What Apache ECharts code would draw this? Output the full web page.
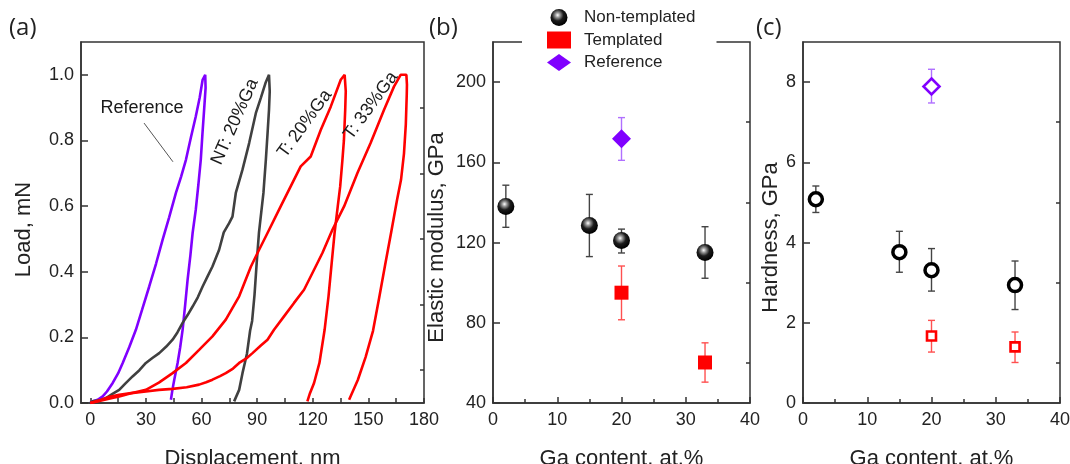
<!DOCTYPE html>
<html><head><meta charset="utf-8">
<script src="https://cdn.jsdelivr.net/npm/echarts@6/dist/echarts.min.js"></script>
<style>html,body{margin:0;padding:0;background:#fff}#c{width:1070px;height:464px}</style>
</head><body><div id="c"></div>
<script>
// ---------- Panel (a): load–displacement curves [displacement nm, load mN] ----------
const curveReference = [[0,0],[1.3,0.005],[4,0.01],[6.7,0.02],[9,0.035],[12.1,0.061],[15,0.09],[17.5,0.122],[21,0.17],[24.6,0.223],[28,0.285],[31.8,0.355],[35.5,0.425],[39,0.497],[42.5,0.565],[46.2,0.64],[49,0.69],[51.6,0.741],[54.3,0.81],[56.9,0.873],[59,0.93],[60.6,0.985],[62,1.0],
  [62.5,1.0],[62.2,0.96],[61.4,0.893],[60.5,0.82],[59.6,0.741],[58.3,0.665],[56.9,0.589],[55.2,0.518],[54,0.45],[52.5,0.376],[51.2,0.3],[49.8,0.223],[48.5,0.17],[47.1,0.122],[45.3,0.071],[44.3,0.04],[43.5,0.01]];
const curveNT20 = [[0,0],[1.3,0.005],[5,0.008],[8.5,0.015],[12,0.028],[15.6,0.04],[19,0.06],[22.8,0.081],[26.5,0.1],[30,0.122],[33.5,0.137],[37.2,0.152],[41,0.172],[44.4,0.193],[47,0.215],[49.8,0.244],[52.5,0.268],[55.2,0.294],[58,0.322],[60.6,0.355],[63.2,0.385],[65.9,0.416],[69.5,0.467],[72,0.52],[74.9,0.548],[76.7,0.568],[78.5,0.64],[82.1,0.711],[85.7,0.792],[89.3,0.883],[92,0.93],[94.5,0.975],[96.4,1.0],
  [97,1.0],[96.8,0.95],[96.4,0.893],[95.6,0.82],[94.7,0.741],[93.4,0.64],[91,0.52],[89.8,0.43],[88.6,0.33],[87.3,0.25],[86.2,0.22],[84.5,0.15],[82.1,0.091],[80.3,0.04],[77.6,0.005]];
const curveT20 = [[0,0],[5,0.006],[10,0.013],[15.6,0.02],[22,0.03],[30,0.04],[37,0.062],[44.4,0.091],[51.6,0.122],[58.7,0.162],[65.9,0.203],[73.1,0.254],[80.3,0.325],[86.6,0.415],[90.2,0.457],[95.6,0.518],[102.7,0.599],[108.1,0.66],[113.5,0.721],[118.9,0.751],[124.3,0.832],[129.7,0.903],[135.1,0.985],[137.2,1.0],
  [138,1.0],[137.8,0.95],[137.5,0.893],[136.8,0.8],[136,0.741],[134.8,0.66],[133.5,0.6],[131.8,0.52],[130.2,0.426],[128.5,0.325],[126.4,0.223],[123.6,0.122],[120.7,0.061],[118.5,0.03],[117.1,0.005]];
const curveT33 = [[0,0],[5,0.008],[10,0.018],[15.6,0.025],[22,0.03],[30,0.035],[37,0.04],[44.4,0.043],[52,0.048],[58.7,0.056],[62.5,0.063],[65.9,0.071],[70,0.082],[73.1,0.091],[77,0.105],[80.3,0.122],[84,0.135],[87.5,0.152],[92,0.175],[95.6,0.193],[99.1,0.223],[104.5,0.264],[109.9,0.305],[115.3,0.345],[120.7,0.406],[125.2,0.457],[130.6,0.528],[136.9,0.599],[144.1,0.701],[151.2,0.792],[158.4,0.893],[163.8,0.964],[167.4,1.0],[170.5,1.0],
  [170.8,0.97],[170.7,0.94],[170.2,0.85],[169.2,0.76],[167.6,0.68],[165.5,0.62],[162.3,0.52],[159,0.42],[155.8,0.32],[152.5,0.22],[148.5,0.14],[144.3,0.07],[139.6,0.01]];
const curveNames = ['curve Reference','curve NT: 20%Ga','curve T: 20%Ga','curve T: 33%Ga'];

// ---------- Panels (b), (c): Ga content (at.%) ----------
const gaNT = [2, 15, 20, 33];
const gaT = [20, 33];
const gaRef = [20];
const modNT = [138, 128.5, 121, 115];
const modNTlo = [127.6, 113, 114.8, 102.2];
const modNThi = [148.6, 144, 126.7, 127.9];
const modT = [95, 60.2];
const modTlo = [81.5, 50.4];
const modThi = [108.3, 70];
const modRef = [171.7];
const modReflo = [161];
const modRefhi = [182.3];
const hardNT = [5.08, 3.76, 3.31, 2.94];
const hardNTlo = [4.75, 3.26, 2.79, 2.33];
const hardNThi = [5.41, 4.28, 3.85, 3.54];
const hardT = [1.67, 1.40];
const hardTlo = [1.27, 1.01];
const hardThi = [2.06, 1.77];
const hardRef = [7.89];
const hardReflo = [7.48];
const hardRefhi = [8.32];

// ---------- tick labels ----------
const dispLabels = [0, 30, 60, 90, 120, 150, 180];
const dispTicks = [0, 15, 30, 45, 60, 75, 90, 105, 120, 135, 150, 165, 180];
const loadLabels = [0, 0.2, 0.4, 0.6, 0.8, 1.0];
const loadMinor = [0.1, 0.3, 0.5, 0.7, 0.9];
const modLabels = [40, 80, 120, 160, 200];
const modMinor = [60, 100, 140, 180];
const hardLabels = [0, 2, 4, 6, 8];
const hardMinor = [1, 3, 5, 7];

const FONT = 'Liberation Sans, Arial, sans-serif';
const AX = '#333';
const PURPLE = '#8000ff', RED = '#ff0000', GRAY = '#404040';
const TICKFS = 18;

const chart = echarts.init(document.getElementById('c'));

function zip(xs, ys) { return xs.map((x, i) => [x, ys[i]]); }
function zip3(xs, a, b) { return xs.map((x, i) => [x, a[i], b[i]]); }

function mainAxis(o) {
  return Object.assign({
    type: 'value',
    axisLine: { show: true, onZero: false, lineStyle: { color: AX, width: 1.5 } },
    axisTick: { show: true, inside: true, length: 7, lineStyle: { color: AX, width: 1.5 } },
    axisLabel: { fontSize: TICKFS, color: '#222', fontFamily: FONT, margin: 7 },
    splitLine: { show: false },
    nameLocation: 'middle',
    nameTextStyle: { fontSize: 22, color: '#222', fontFamily: FONT }
  }, o);
}
function minorAxis(o, vals) {
  return Object.assign({
    type: 'value',
    axisLine: { show: false, onZero: false },
    axisTick: { show: true, inside: true, length: 4, customValues: vals, lineStyle: { color: AX, width: 1.5 } },
    axisLabel: { show: false },
    splitLine: { show: false }
  }, o);
}

const xAxis = [
  mainAxis({ gridIndex: 0, min: -5, max: 180, name: 'Displacement, nm', nameGap: 45,
    axisTick: { show: true, inside: true, length: 5, customValues: dispTicks, lineStyle: { color: AX, width: 1.5 } },
    axisLabel: { customValues: dispLabels, fontSize: TICKFS, color: '#222', fontFamily: FONT, margin: 8 } }),
  mainAxis({ gridIndex: 1, min: 0, max: 40, interval: 10, name: 'Ga content, at.%', nameGap: 45,
    axisTick: { show: true, inside: true, length: 6, lineStyle: { color: AX, width: 1.5 } },
    minorTick: { show: true, splitNumber: 2, length: 4, lineStyle: { color: AX, width: 1.5 } },
    axisLabel: { fontSize: TICKFS, color: '#222', fontFamily: FONT, margin: 8 } }),
  mainAxis({ gridIndex: 2, min: 0, max: 40, interval: 10, name: 'Ga content, at.%', nameGap: 45,
    axisTick: { show: true, inside: true, length: 6, lineStyle: { color: AX, width: 1.5 } },
    minorTick: { show: true, splitNumber: 2, length: 4, lineStyle: { color: AX, width: 1.5 } },
    axisLabel: { fontSize: TICKFS, color: '#222', fontFamily: FONT, margin: 8 } })
];
const yAxis = [
  mainAxis({ gridIndex: 0, min: 0, max: 1.1, name: 'Load, mN', nameGap: 46,
    axisTick: { show: true, inside: true, length: 7, customValues: loadLabels, lineStyle: { color: AX, width: 1.5 } },
    axisLabel: { customValues: loadLabels, formatter: v => v.toFixed(1), fontSize: TICKFS, color: '#222', fontFamily: FONT, margin: 7 },
    nameTextStyle: { fontSize: 22, color: '#222', fontFamily: FONT, padding: [0, 14, 0, 0] } }),
  minorAxis({ gridIndex: 0, min: 0, max: 1.1 }, loadMinor),
  mainAxis({ gridIndex: 1, min: 40, max: 220, name: 'Elastic modulus, GPa', nameGap: 45,
    axisTick: { show: true, inside: true, length: 7, customValues: modLabels, lineStyle: { color: AX, width: 1.5 } },
    axisLabel: { customValues: modLabels, fontSize: TICKFS, color: '#222', fontFamily: FONT, margin: 7 },
    nameTextStyle: { fontSize: 22, color: '#222', fontFamily: FONT, padding: [0, 30, 0, 0] } }),
  minorAxis({ gridIndex: 1, min: 40, max: 220 }, modMinor),
  mainAxis({ gridIndex: 2, min: 0, max: 9, name: 'Hardness, GPa', nameGap: 20,
    axisTick: { show: true, inside: true, length: 7, customValues: hardLabels, lineStyle: { color: AX, width: 1.5 } },
    axisLabel: { customValues: hardLabels, fontSize: TICKFS, color: '#222', fontFamily: FONT, margin: 7 },
    nameTextStyle: { fontSize: 22, color: '#222', fontFamily: FONT, padding: [0, 30, 0, 0] } }),
  minorAxis({ gridIndex: 2, min: 0, max: 9 }, hardMinor)
];

const gridBase = { top: 42, width: 257, height: 361, show: true, borderColor: AX, borderWidth: 1.5,
  backgroundColor: 'transparent', containLabel: false, outerBoundsMode: 'none' };
const grid = [
  Object.assign({}, gridBase, { left: 81, width: 343 }),
  Object.assign({}, gridBase, { left: 493 }),
  Object.assign({}, gridBase, { left: 803 })
];

function curve(name, data, color) {
  return { name, type: 'line', xAxisIndex: 0, yAxisIndex: 0, data, showSymbol: false, symbol: 'none',
    lineStyle: { color, width: 2.6 }, itemStyle: { color }, z: 3, silent: true, animation: false };
}

function errBars(name, xi, yi, data, color, cap) {
  return {
    name, type: 'custom', xAxisIndex: xi, yAxisIndex: yi, data, z: 2, silent: true, animation: false,
    encode: { x: 0, y: [1, 2] },
    renderItem: function (params, api) {
      const x = api.value(0), lo = api.value(1), hi = api.value(2);
      const a = api.coord([x, lo]), b = api.coord([x, hi]);
      const st = { stroke: color, lineWidth: 1.4 };
      return { type: 'group', children: [
        { type: 'line', shape: { x1: a[0], y1: a[1], x2: b[0], y2: b[1] }, style: st },
        { type: 'line', shape: { x1: a[0] - cap, y1: a[1], x2: a[0] + cap, y2: a[1] }, style: st },
        { type: 'line', shape: { x1: b[0] - cap, y1: b[1], x2: b[0] + cap, y2: b[1] }, style: st }
      ] };
    }
  };
}

const sphere = new echarts.graphic.RadialGradient(0.42, 0.36, 0.62, [
  { offset: 0, color: '#ffffff' }, { offset: 0.22, color: '#9a9a9a' }, { offset: 0.55, color: '#1c1c1c' }, { offset: 1, color: '#000000' }
]);

// annotation labels anchored in data space of panel (a) (rotation in degrees)
const annotations = [
  { text: 'Reference', x: 27.9, y: 0.9, rot: 0 },
  { text: 'NT: 20%Ga', x: 78, y: 0.857, rot: 66 },
  { text: 'T: 20%Ga', x: 115.7, y: 0.851, rot: 54 },
  { text: 'T: 33%Ga', x: 151.3, y: 0.906, rot: 54 }
];
const leader = [[29, 0.853], [44.6, 0.735]];

const series = [
  curve(curveNames[0], curveReference, PURPLE),
  curve(curveNames[1], curveNT20, GRAY),
  curve(curveNames[2], curveT20, RED),
  curve(curveNames[3], curveT33, RED),
  { name: 'leader', type: 'line', xAxisIndex: 0, yAxisIndex: 0, data: leader, showSymbol: false, symbol: 'none', silent: true,
    lineStyle: { color: '#555', width: 1 }, z: 4, animation: false },

  errBars('ebNT', 1, 2, zip3(gaNT, modNTlo, modNThi), '#444', 3.5),
  errBars('ebT', 1, 2, zip3(gaT, modTlo, modThi), '#ff5050', 3.5),
  errBars('ebR', 1, 2, zip3(gaRef, modReflo, modRefhi), '#b070ff', 3.5),
  { name: 'Non-templated', type: 'scatter', xAxisIndex: 1, yAxisIndex: 2, data: zip(gaNT, modNT), symbol: 'circle', symbolSize: 17,
    itemStyle: { color: sphere, opacity: 1 }, z: 4, animation: false },
  { name: 'Templated', type: 'scatter', xAxisIndex: 1, yAxisIndex: 2, data: zip(gaT, modT), symbol: 'rect', symbolSize: 14,
    itemStyle: { color: RED, opacity: 1 }, z: 4, animation: false },
  { name: 'Reference', type: 'scatter', xAxisIndex: 1, yAxisIndex: 2, data: zip(gaRef, modRef), symbol: 'diamond', symbolSize: 19,
    itemStyle: { color: PURPLE, opacity: 1 }, z: 4, animation: false },

  errBars('ebNTh', 2, 4, zip3(gaNT, hardNTlo, hardNThi), '#444', 3.5),
  errBars('ebTh', 2, 4, zip3(gaT, hardTlo, hardThi), '#ff5050', 3.5),
  errBars('ebRh', 2, 4, zip3(gaRef, hardReflo, hardRefhi), '#b070ff', 3.5),
  { name: 'Non-templated (H)', type: 'scatter', xAxisIndex: 2, yAxisIndex: 4, data: zip(gaNT, hardNT), symbol: 'circle', symbolSize: 13,
    itemStyle: { color: '#fff', borderColor: '#000', borderWidth: 3.5, opacity: 1 }, z: 4, animation: false },
  { name: 'Templated (H)', type: 'scatter', xAxisIndex: 2, yAxisIndex: 4, data: zip(gaT, hardT), symbol: 'rect', symbolSize: 9,
    itemStyle: { color: '#fff', borderColor: RED, borderWidth: 2.6, opacity: 1 }, z: 4, animation: false },
  { name: 'Reference (H)', type: 'scatter', xAxisIndex: 2, yAxisIndex: 4, data: zip(gaRef, hardRef), symbol: 'diamond', symbolSize: 16,
    itemStyle: { color: '#fff', borderColor: PURPLE, borderWidth: 2.6, opacity: 1 }, z: 4, animation: false }
];

const panelLabels = [
  { type: 'text', left: 9, top: 16, style: { text: '(a)', fontSize: 24, fill: '#222', fontFamily: 'Open Sans, sans-serif' } },
  { type: 'text', left: 429, top: 16, style: { text: '(b)', fontSize: 24, fill: '#222', fontFamily: 'Open Sans, sans-serif' } },
  { type: 'text', left: 756, top: 16, style: { text: '(c)', fontSize: 24, fill: '#222', fontFamily: 'Open Sans, sans-serif' } }
];

chart.setOption({
  animation: false,
  backgroundColor: '#fff',
  grid, xAxis, yAxis, series,
  legend: {
    data: ['Non-templated', 'Templated', 'Reference'],
    orient: 'vertical', left: 522, top: 3,
    padding: [6, 21, 8, 25],
    itemWidth: 24, itemHeight: 17, itemGap: 5.5,
    backgroundColor: '#fff', selectedMode: false, z: 10,
    textStyle: { fontSize: 17, color: '#222', fontFamily: FONT, padding: [0, 0, 0, 8] }
  },
  graphic: panelLabels
});

// place rotated annotation texts via the panel (a) coordinate system
const annoGraphics = annotations.map(a => {
  const p = chart.convertToPixel({ gridIndex: 0 }, [a.x, a.y]);
  return { type: 'text', x: p[0], y: p[1], rotation: a.rot * Math.PI / 180, z: 10,
    style: { text: a.text, fontSize: 18, fill: '#1a1a1a', fontFamily: FONT, align: 'center', verticalAlign: 'middle' } };
});
chart.setOption({ graphic: panelLabels.concat(annoGraphics) });
</script></body></html>
